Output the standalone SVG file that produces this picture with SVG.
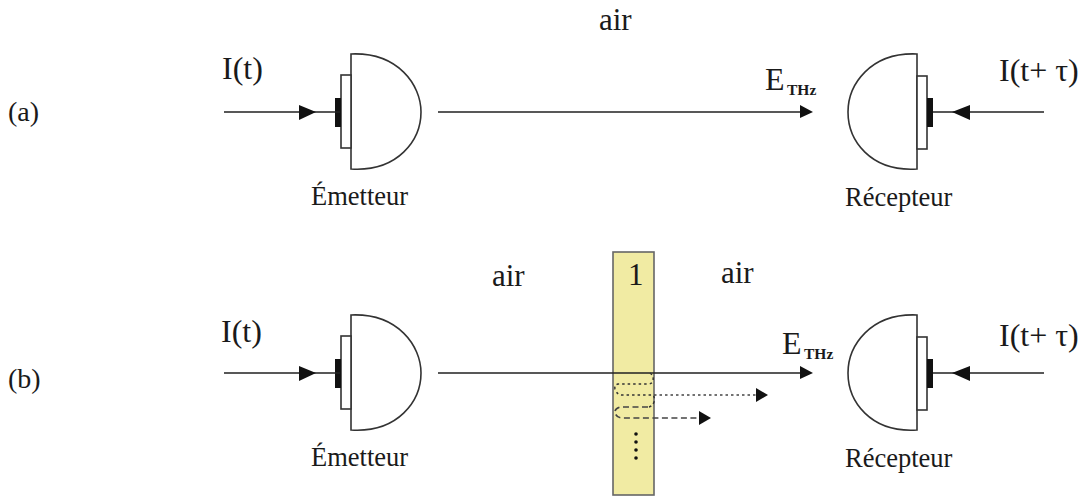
<svg xmlns="http://www.w3.org/2000/svg" width="1080" height="497" viewBox="0 0 1080 497">
<style>
text{font-family:"Liberation Serif","Times New Roman",serif;fill:#1a1a1a}
.big{font-size:32px}.air{font-size:31px}.lab{font-size:28px}.cap{font-size:26.5px}.e{font-size:32px}.sub{font-size:15.5px;font-weight:bold}
.o{fill:#fff;stroke:#333;stroke-width:1.6}
.l{fill:none;stroke:#222;stroke-width:1.7}
.b{fill:#111;stroke:none}
.h{fill:#111;stroke:none}
</style>
<defs>
<g id="emit"><path class="o" d="M351 54C398 52 421 85 421 112C421 140 398 172 351 169Z"/><rect class="o" x="341" y="75" width="10" height="73"/><rect class="b" x="335" y="98" width="6" height="29"/></g>
<g id="recv"><path class="o" d="M917 54C870 52 848 85 848 112C848 140 870 172 917 169Z"/><rect class="o" x="917" y="76" width="10" height="73"/><rect class="b" x="927" y="98" width="6" height="29"/></g>
</defs>
<text class="air" x="599" y="30">air</text>
<text class="lab" x="8" y="121">(a)</text>
<text class="lab" x="8" y="388">(b)</text>
<g id="slab"><rect x="613" y="252" width="41" height="243" fill="#f1eba3" stroke="#666" stroke-width="1.6"/><text class="air" x="628" y="285">1</text></g>
<text class="air" x="492" y="286">air</text>
<text class="air" x="721" y="283">air</text>
<g id="emetteur-a"><use href="#emit"/><text class="cap" x="311" y="205">Émetteur</text></g>
<g id="recepteur-a"><use href="#recv"/><text class="cap" x="845" y="206">Récepteur</text></g>
<g id="emetteur-b"><use href="#emit" y="261"/><text class="cap" x="311" y="466">Émetteur</text></g>
<g id="recepteur-b"><use href="#recv" y="261"/><text class="cap" x="845" y="467">Récepteur</text></g>
<g id="connectors">
<path class="l" d="M224 112H340M438 112H805M1044 112H933"/>
<path class="h" d="M299 105L316 112L299 120ZM800 105L813 112L800 118ZM970 105L952 112L970 120Z"/>
<path class="l" d="M224 373H340M438 373H805M1044 373H933"/>
<path class="h" d="M299 366L316 373L299 381ZM800 366L813 373L800 379ZM970 366L952 373L970 381Z"/>
<path d="M650 373Q654 376 653 381Q652 384 648 384H618Q614 385 615 389Q617 395 622 395H653Q655 397 654 402Q652 407 648 407" fill="none" stroke="#333" stroke-width="1.5" stroke-dasharray="2.5 3"/>
<path d="M654 395H757" fill="none" stroke="#444" stroke-width="1.5" stroke-dasharray="2.5 3"/>
<path class="h" d="M756 388L768 395L756 402Z"/>
<path d="M648 407H620Q614 409 615 413Q617 418 622 418H699" fill="none" stroke="#444" stroke-width="1.6" stroke-dasharray="6 3.5"/>
<path class="h" d="M699 411L711 418L699 425Z"/>
</g>
<g id="dots" fill="#111"><circle cx="636" cy="434" r="1.8"/><circle cx="636" cy="442" r="1.8"/><circle cx="636" cy="450" r="1.8"/><circle cx="636" cy="458" r="1.8"/></g>
<text class="big" x="222" y="79">I(t)</text>
<text class="big" x="221" y="342">I(t)</text>
<text class="big" x="999" y="81">I(t+ τ)</text>
<text class="big" x="999" y="346">I(t+ τ)</text>
<text class="e" x="765" y="90">E</text><text class="sub" x="787" y="95">THz</text>
<text class="e" x="782" y="354">E</text><text class="sub" x="804" y="359">THz</text>
</svg>
